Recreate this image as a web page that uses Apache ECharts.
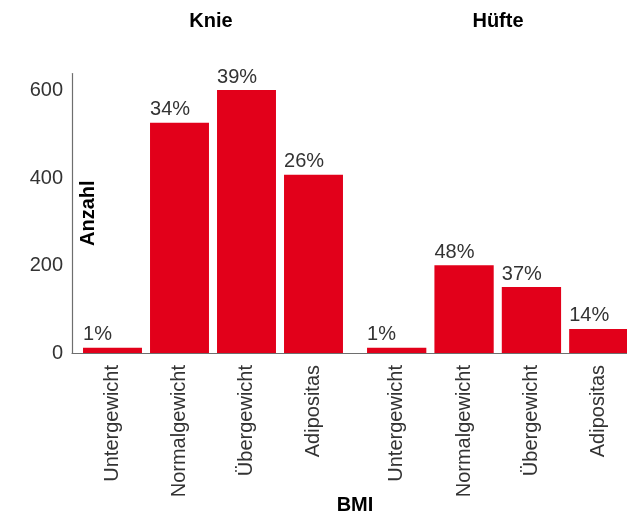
<!DOCTYPE html>
<html>
<head>
<meta charset="utf-8">
<script src="https://cdn.jsdelivr.net/npm/echarts@6/dist/echarts.min.js"></script>
<style>
  html, body { margin: 0; padding: 0; background: #fff; }
  #chart { width: 627px; height: 515px; }
</style>
</head>
<body>
<div id="chart"></div>
<script>
// BMI-Verteilung der Patienten, getrennt nach Knie und Hüfte
const categories = ['Untergewicht', 'Normalgewicht', 'Übergewicht', 'Adipositas'];
const knieCounts = [12, 527, 602, 408];
const knieShares = ['1%', '34%', '39%', '26%'];
const hueftCounts = [12, 201, 151, 55];
const hueftShares = ['1%', '48%', '37%', '14%'];
const yTicks = { min: 0, max: 640, step: 200 };

const RED = '#e2001a';
const AXIS = '#6e6e6e';
const TEXT = '#333333';
const FONT = '"Liberation Sans", Arial, Helvetica, sans-serif';

const chart = echarts.init(document.getElementById('chart'), null, { renderer: 'canvas' });

function panelSeries(values, shares, idx) {
  return {
    type: 'bar',
    xAxisIndex: idx,
    yAxisIndex: idx,
    barCategoryGap: '12%',
    itemStyle: { color: RED },
    data: values.map((v, i) => ({ value: v, share: shares[i] })),
    label: {
      show: true,
      position: [0, -3],
      align: 'left',
      verticalAlign: 'bottom',
      color: TEXT,
      fontFamily: FONT,
      fontSize: 20,
      formatter: p => p.data.share
    },
    silent: true,
    animation: false
  };
}

function catAxis(idx) {
  return {
    type: 'category',
    gridIndex: idx,
    data: categories,
    axisLine: { show: false },
    axisTick: { show: false },
    axisLabel: {
      rotate: 90,
      margin: 12,
      color: TEXT,
      fontFamily: FONT,
      fontSize: 20
    }
  };
}

function valAxis(idx, visible) {
  return {
    type: 'value',
    gridIndex: idx,
    min: yTicks.min,
    max: yTicks.max,
    interval: yTicks.step,
    show: visible,
    offset: visible ? 7 : 0,
    name: visible ? 'Anzahl' : '',
    nameLocation: 'middle',
    nameGap: -26,
    nameMoveOverlap: false,
    nameTextStyle: { color: '#000', fontFamily: FONT, fontSize: 20, fontWeight: 'bold' },
    axisLine: { show: visible, lineStyle: { color: AXIS, width: 1.2 } },
    axisTick: { show: false },
    splitLine: { show: false },
    axisLabel: {
      show: visible,
      color: TEXT,
      fontFamily: FONT,
      fontSize: 20,
      margin: 9,
      showMaxLabel: false,
      formatter: v => (v % yTicks.step === 0 ? String(v) : '')
    }
  };
}

const titleStyle = { fontFamily: FONT, fontSize: 20, fontWeight: 'bold', color: '#000' };

const option = {
  backgroundColor: '#fff',
  animation: false,
  title: [
    { text: 'Knie', left: 206, top: 6, textAlign: 'center', textStyle: titleStyle },
    { text: 'Hüfte', left: 493, top: 6, textAlign: 'center', textStyle: titleStyle },
    { text: 'BMI', left: 350, top: 490, textAlign: 'center', textStyle: titleStyle }
  ],
  grid: [
    { left: 79, width: 268, top: 73.5, bottom: 162, outerBoundsMode: 'none' },
    { left: 363, right: -5.5, top: 73.5, bottom: 162, outerBoundsMode: 'none' },
    { left: 72, right: 0, top: 73.5, bottom: 162, outerBoundsMode: 'none' }
  ],
  xAxis: [
    catAxis(0),
    catAxis(1),
    {
      type: 'value', gridIndex: 2, min: 0, max: 1,
      axisLine: { show: true, onZero: false, lineStyle: { color: AXIS, width: 1.2 } },
      axisTick: { show: false }, axisLabel: { show: false }, splitLine: { show: false }
    }
  ],
  yAxis: [valAxis(0, true), valAxis(1, false), valAxis(2, false)],
  series: [
    panelSeries(knieCounts, knieShares, 0),
    panelSeries(hueftCounts, hueftShares, 1)
  ]
};

chart.setOption(option);
</script>
</body>
</html>
